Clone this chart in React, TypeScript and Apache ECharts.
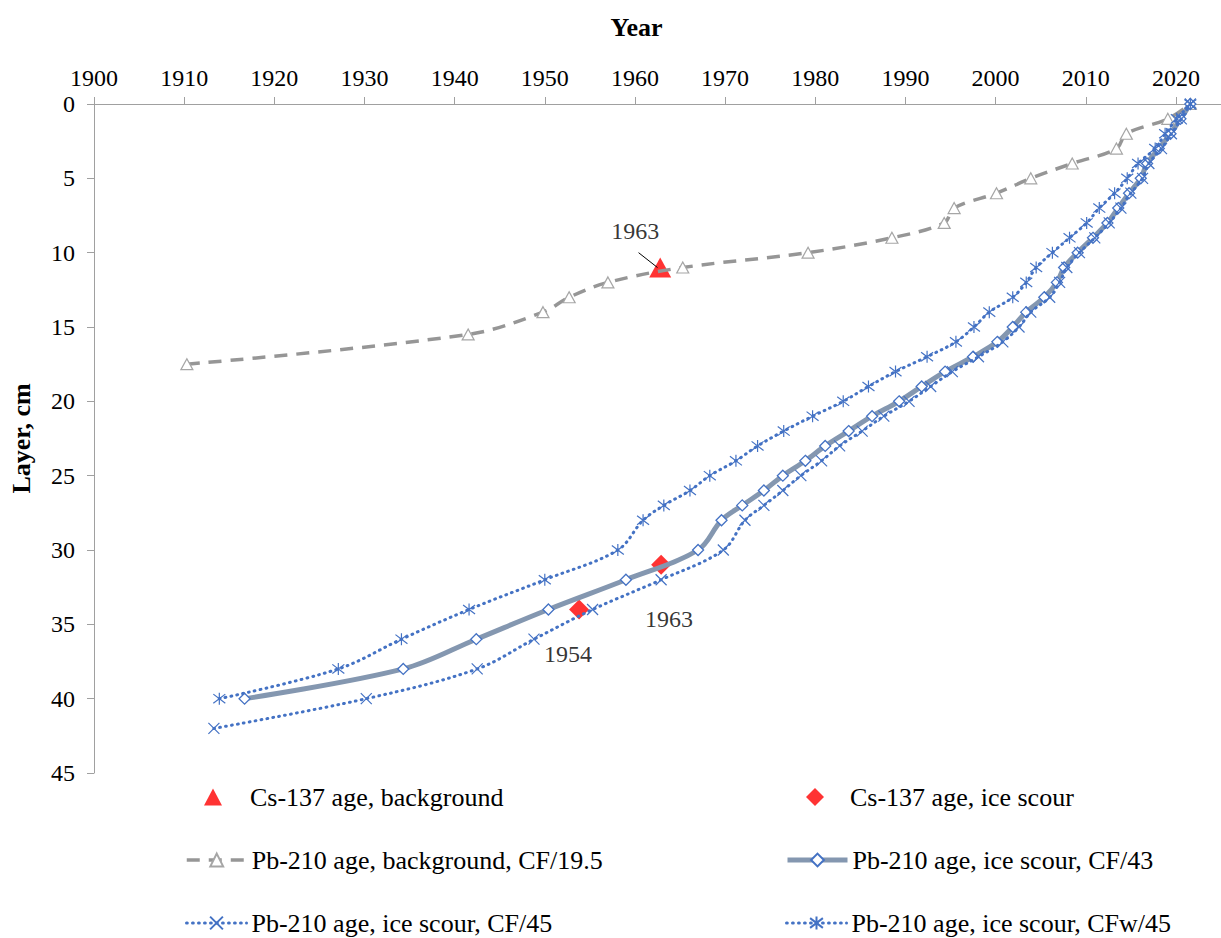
import React, { useEffect, useRef } from "react";
import * as echarts from "echarts";

// ---- Data ----
const bgYears = [1910.3, 1941.5, 1949.8, 1952.7, 1957.0, 1965.3, 1979.2, 1988.5, 1994.3, 1995.4, 2000.1, 2003.9, 2008.5, 2013.4, 2014.5, 2019.1, 2021.6];
const bgDepths = [17.5, 15.5, 14, 13, 12, 11, 10, 9, 8, 7, 6, 5, 4, 3, 2, 1, 0];

const cf43Depths = [40, 38, 36, 34, 32, 30, 28, 27, 26, 25, 24, 23, 22, 21, 20, 19, 18, 17, 16, 15, 14, 13, 12, 11, 10, 9, 8, 7, 6, 5, 4, 3, 2, 1, 0];
const cf43Years = [1916.7, 1934.3, 1942.4, 1950.4, 1959.0, 1967.0, 1969.6, 1971.9, 1974.3, 1976.4, 1978.9, 1981.1, 1983.7, 1986.3, 1989.3, 1991.8, 1994.4, 1997.5, 2000.2, 2001.9, 2003.4, 2005.4, 2006.8, 2007.6, 2009.1, 2010.8, 2012.4, 2013.6, 2014.8, 2016.1, 2016.8, 2018.1, 2019.4, 2020.5, 2021.6];

const cf45Depths = [42, 40, 38, 36, 34, 32, 30, 28, 27, 26, 25, 24, 23, 22, 21, 20, 19, 18, 17, 16, 15, 14, 13, 12, 11, 10, 9, 8, 7, 6, 5, 4, 3, 2, 1, 0];
const cf45Years = [1913.3, 1930.2, 1942.5, 1948.8, 1955.3, 1962.9, 1969.8, 1972.2, 1974.3, 1976.4, 1978.4, 1980.7, 1982.7, 1985.2, 1987.6, 1990.4, 1992.8, 1995.2, 1998.1, 2000.8, 2002.6, 2003.9, 2006.0, 2007.1, 2007.9, 2009.3, 2011.0, 2012.6, 2013.9, 2015.0, 2016.3, 2017.0, 2018.4, 2019.5, 2020.6, 2021.6];

const cfw45Depths = [40, 38, 36, 34, 32, 30, 28, 27, 26, 25, 24, 23, 22, 21, 20, 19, 18, 17, 16, 15, 14, 13, 12, 11, 10, 9, 8, 7, 6, 5, 4, 3, 2, 1, 0];
const cfw45Years = [1913.9, 1927.1, 1934.1, 1941.6, 1950.0, 1958.1, 1960.9, 1963.2, 1966.1, 1968.3, 1971.2, 1973.6, 1976.5, 1979.7, 1983.1, 1985.9, 1988.9, 1992.4, 1995.6, 1997.6, 1999.3, 2001.9, 2003.4, 2004.5, 2006.3, 2008.2, 2010.1, 2011.5, 2013.2, 2014.6, 2015.8, 2017.7, 2018.8, 2020.1, 2021.6];

const csBgYears = [1962.8];
const csBgDepths = [11];
const csBgLabels = ["1963"];
// pointer from the "1963" label to the background Cs-137 point (year, depth)
const csBgPointerFrom = [1960.4, 10.0];
const csBgPointerTo = [1962.5, 11.0];

const csIceYears = [1962.9, 1953.8];
const csIceDepths = [31, 34];
const csIceLabels = ["1963", "1954"];

const xMin = 1900;
const xMax = 2025;
const xInterval = 10;
const yMin = 0;
const yMax = 45;
const yInterval = 5;

const seriesNames = [
  "Cs-137 age, background",
  "Cs-137 age, ice scour",
  "Pb-210 age, background, CF/19.5",
  "Pb-210 age, ice scour, CF/43",
  "Pb-210 age, ice scour, CF/45",
  "Pb-210 age, ice scour, CFw/45",
];

const FONT = "Liberation Serif";
const BLUE = "#4472C4";
const SLATE = "#8497B0";
const GRAY = "#969696";
const AXIS = "#A0A0A0";

const X_SYM = "path://M0,0L10,10M10,0L0,10";
const STAR_SYM = "path://M1.2,1.2L8.8,8.8M8.8,1.2L1.2,8.8M5,0L5,10";

function pairs(xs: number[], ys: number[]) {
  return xs.map((x, i) => [x, ys[i]]);
}

export default function App() {
  const ref = useRef<HTMLDivElement>(null);

  useEffect(() => {
    if (!ref.current) return;
    const chart = echarts.init(ref.current, undefined, { renderer: "svg" });

    const mkLegend = (name: string, left: number, top: number, extra: any = {}) => ({
      show: true,
      data: [name],
      left,
      top,
      orient: "horizontal",
      itemWidth: 60,
      itemHeight: 16,
      padding: 0,
      selectedMode: false,
      textStyle: { fontFamily: FONT, fontSize: 26, color: "#000", lineHeight: 30, ...(extra.textStyle || {}) },
      ...extra,
      ...(extra.textStyle ? { textStyle: { fontFamily: FONT, fontSize: 26, color: "#000", lineHeight: 30, ...extra.textStyle } } : {}),
    });

    const dotted = { color: BLUE, width: 3, type: [0.8, 5.2], cap: "round" };

    const option: any = {
      animation: false,
      backgroundColor: "#fff",
      textStyle: { fontFamily: FONT },
      grid: { left: 91, top: 104, width: 1142, height: 669, containLabel: false },
      xAxis: {
        type: "value",
        position: "top",
        min: xMin,
        max: xMax,
        interval: xInterval,
        name: "Year",
        nameLocation: "middle",
        nameGap: 64,
        nameTextStyle: { fontFamily: FONT, fontSize: 26, fontWeight: "bold", color: "#000", padding: [0, 42, 0, 0] },
        axisLine: { show: true, lineStyle: { color: AXIS, width: 1 } },
        axisTick: { show: true, inside: false, length: 7, lineStyle: { color: AXIS } },
        axisLabel: {
          fontFamily: FONT,
          fontSize: 24,
          color: "#000",
          margin: 14,
          showMaxLabel: false,
          formatter: (v: number) => String(v),
        },
        splitLine: { show: false },
      },
      yAxis: {
        type: "value",
        inverse: true,
        min: yMin,
        max: yMax,
        interval: yInterval,
        name: "Layer, cm",
        nameLocation: "middle",
        nameGap: 60,
        nameRotate: 90,
        nameTextStyle: { fontFamily: FONT, fontSize: 26, fontWeight: "bold", color: "#000" },
        axisLine: { show: true, lineStyle: { color: AXIS, width: 1 } },
        axisTick: { show: true, inside: false, length: 7, lineStyle: { color: AXIS } },
        axisLabel: { fontFamily: FONT, fontSize: 24, color: "#000", margin: 19, formatter: (v: number) => String(v) },
        splitLine: { show: false },
      },
      legend: [
        mkLegend(seriesNames[0], 204, 782, { itemWidth: 18, itemHeight: 17, textStyle: { padding: [0, 0, 0, 23] } }),
        mkLegend(seriesNames[1], 806, 782, { itemWidth: 18, itemHeight: 18, textStyle: { padding: [0, 0, 0, 21] } }),
        mkLegend(seriesNames[2], 185, 845, { lineStyle: { color: GRAY, width: 3.5, type: [13, 9] } }),
        mkLegend(seriesNames[3], 785, 845, { lineStyle: { color: SLATE, width: 5 } }),
        mkLegend(seriesNames[4], 185, 908, { lineStyle: dotted }),
        mkLegend(seriesNames[5], 785, 908, { lineStyle: dotted }),
      ],
      series: [
        {
          name: seriesNames[0],
          type: "scatter",
          symbol: "triangle",
          symbolSize: [22, 20],
          itemStyle: { color: "#FF0000" },
          data: csBgYears.map((y, i) => ({
            value: [y, csBgDepths[i]],
            label: {
              show: true,
              formatter: csBgLabels[i],
              position: "inside",
              offset: [-25, -37],
              fontFamily: FONT,
              fontSize: 24,
              color: "#000",
            },
          })),
          markLine: {
            silent: true,
            symbol: ["none", "none"],
            label: { show: false },
            lineStyle: { color: "#000", width: 1, type: "solid" },
            data: [[{ coord: csBgPointerFrom }, { coord: csBgPointerTo }]],
          },
          z: 1,
        },
        {
          name: seriesNames[1],
          type: "scatter",
          symbol: "diamond",
          symbolSize: [20, 20],
          itemStyle: { color: "#FF0000" },
          data: csIceYears.map((y, i) => ({
            value: [y, csIceDepths[i]],
            label: {
              show: true,
              formatter: csIceLabels[i],
              position: "inside",
              offset: i === 0 ? [8, 54] : [-11, 45],
              fontFamily: FONT,
              fontSize: 24,
              color: "#000",
            },
          })),
          z: 1,
        },
        {
          name: seriesNames[2],
          type: "line",
          smooth: 0.35,
          symbol: "triangle",
          symbolSize: [12, 11],
          showAllSymbol: true,
          lineStyle: { color: GRAY, width: 3.5, type: [13, 9] },
          itemStyle: { color: "#fff", borderColor: "#A6A6A6", borderWidth: 1.2 },
          data: pairs(bgYears, bgDepths),
          z: 2,
        },
        {
          name: seriesNames[3],
          type: "line",
          smooth: 0.35,
          symbol: "diamond",
          symbolSize: [11, 11],
          showAllSymbol: true,
          lineStyle: { color: SLATE, width: 5 },
          itemStyle: { color: "#fff", borderColor: BLUE, borderWidth: 1.3 },
          data: pairs(cf43Years, cf43Depths),
          z: 2,
        },
        {
          name: seriesNames[4],
          type: "line",
          smooth: 0.35,
          symbol: X_SYM,
          symbolSize: [11, 11],
          showAllSymbol: true,
          lineStyle: dotted,
          itemStyle: { color: "none", borderColor: BLUE, borderWidth: 1.2 },
          data: pairs(cf45Years, cf45Depths),
          z: 3,
        },
        {
          name: seriesNames[5],
          type: "line",
          smooth: 0.35,
          symbol: STAR_SYM,
          symbolSize: [12, 12],
          showAllSymbol: true,
          lineStyle: dotted,
          itemStyle: { color: "none", borderColor: BLUE, borderWidth: 1.2 },
          data: pairs(cfw45Years, cfw45Depths),
          z: 3,
        },
      ],
    };

    chart.setOption(option);
    return () => chart.dispose();
  }, []);

  return (
    <div
      ref={ref}
      style={{ position: "absolute", left: 0, top: 0, width: 1221, height: 938, background: "#fff" }}
    />
  );
}
